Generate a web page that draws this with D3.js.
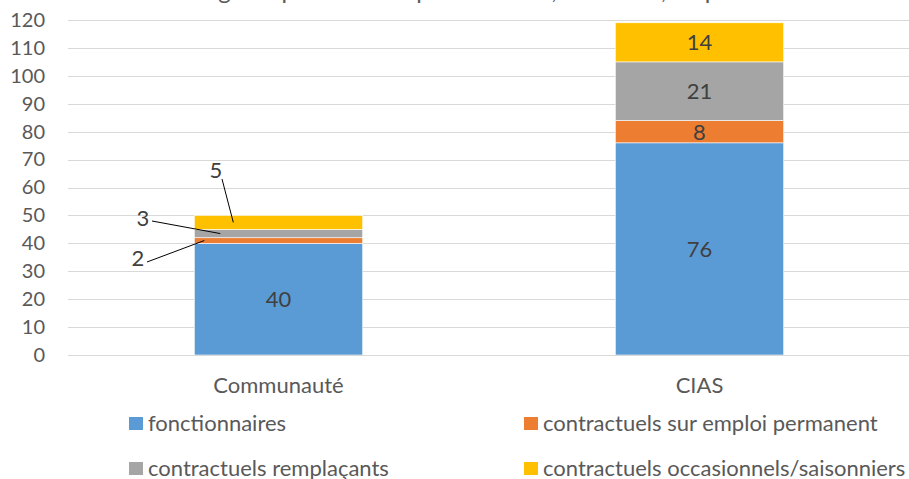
<!DOCTYPE html>
<html>
<head>
<meta charset="utf-8">
<script src="https://cdnjs.cloudflare.com/ajax/libs/d3/7.8.5/d3.min.js"></script>
<style>
  body { margin: 0; background: #fff; }
  text { font-family: Lato, "Open Sans", sans-serif; }
</style>
</head>
<body>
<script>
var categories = ["Communauté", "CIAS"];
var seriesNames = ["fonctionnaires", "contractuels sur emploi permanent", "contractuels remplaçants", "contractuels occasionnels/saisonniers"];
var seriesColors = ["#5b9bd5", "#ed7d31", "#a5a5a5", "#ffc000"];
var fonctionnaires = [40, 76];
var contractuelsPermanent = [2, 8];
var contractuelsRemplacants = [3, 21];
var contractuelsOccasionnels = [5, 14];
var yTicks = [0, 10, 20, 30, 40, 50, 60, 70, 80, 90, 100, 110, 120];
var title = "Nombre d'agents par statut et par structure, au 31/12, en personnes";

var width = 909, height = 479;
var margin = {top: 20, right: 0, bottom: 124, left: 68};

var rows = categories.map(function(c, i) {
  return {
    cat: c,
    s0: fonctionnaires[i],
    s1: contractuelsPermanent[i],
    s2: contractuelsRemplacants[i],
    s3: contractuelsOccasionnels[i]
  };
});
var keys = ["s0", "s1", "s2", "s3"];
var stacked = d3.stack().keys(keys)(rows);

var svg = d3.select("body").append("svg")
    .attr("width", width)
    .attr("height", height);

var x = d3.scaleBand()
    .domain(categories)
    .range([margin.left, width - margin.right + 1])
    .paddingInner(0.6)
    .paddingOuter(0.3);

var y = d3.scaleLinear()
    .domain([0, 120])
    .range([height - margin.bottom, margin.top]);

// title (cut off at the top, as in the source)
svg.append("text")
    .attr("x", 455)
    .attr("y", -1)
    .attr("text-anchor", "middle")
    .attr("font-size", 24)
    .attr("fill", "#595959")
    .text(title);

// gridlines
svg.append("g")
  .selectAll("line")
  .data(yTicks)
  .enter().append("line")
    .attr("x1", margin.left)
    .attr("x2", width)
    .attr("y1", function(d) { return Math.round(y(d)) + 0.5; })
    .attr("y2", function(d) { return Math.round(y(d)) + 0.5; })
    .attr("stroke", "#d9d9d9")
    .attr("stroke-width", 1);

// y axis labels
var yAxis = svg.append("g")
    .attr("transform", "translate(45,0)")
    .call(d3.axisLeft(y).tickValues(yTicks).tickSize(0).tickPadding(0));
yAxis.select(".domain").remove();
yAxis.selectAll("text")
    .attr("font-family", "Lato, sans-serif")
    .attr("font-size", 20)
    .attr("fill", "#595959");

// bars
svg.append("g")
  .selectAll("g")
  .data(stacked)
  .enter().append("g")
    .attr("fill", function(d, i) { return seriesColors[i]; })
  .selectAll("rect")
  .data(function(d) { return d; })
  .enter().append("rect")
    .attr("x", function(d) { return x(d.data.cat); })
    .attr("width", x.bandwidth())
    .attr("y", function(d) { return y(d[1]); })
    .attr("height", function(d) { return y(d[0]) - y(d[1]); })
    .attr("stroke", "#fff")
    .attr("stroke-width", 0.6);

// x axis line
svg.append("line")
    .attr("x1", margin.left)
    .attr("x2", width)
    .attr("y1", Math.round(y(0)) + 0.5)
    .attr("y2", Math.round(y(0)) + 0.5)
    .attr("stroke", "#d9d9d9");

// category labels
svg.append("g")
  .selectAll("text")
  .data(categories)
  .enter().append("text")
    .attr("x", function(d) { return x(d) + x.bandwidth() / 2; })
    .attr("y", 393)
    .attr("text-anchor", "middle")
    .attr("font-size", 22)
    .attr("fill", "#595959")
    .text(function(d) { return d; });

// data labels inside bars (CIAS all, Communauté only the big one)
var labelG = svg.append("g");
stacked.forEach(function(layer, si) {
  layer.forEach(function(d) {
    var v = d[1] - d[0];
    if (d.data.cat === "Communauté" && si > 0) return;
    labelG.append("text")
        .attr("x", x(d.data.cat) + x.bandwidth() / 2)
        .attr("y", (y(d[0]) + y(d[1])) / 2)
        .attr("dy", "0.36em")
        .attr("text-anchor", "middle")
        .attr("font-size", 22)
        .attr("fill", "#404040")
        .text(v);
  });
});

// callout labels for the thin Communauté segments
var xc = x("Communauté");
var callouts = [
  {si: 1, lx: 138, ly: 258, px: xc + 10},
  {si: 2, lx: 143, ly: 218, px: xc + 26},
  {si: 3, lx: 216, ly: 170, px: xc + 39}
];
callouts.forEach(function(c) {
  var d = stacked[c.si][0];
  var v = d[1] - d[0];
  var py = (y(d[0]) + y(d[1])) / 2;
  var sx, sy;
  if (c.si === 3) { sx = c.lx + 6; sy = c.ly + 9; }
  else { sx = c.lx + 9; sy = c.ly + (c.si === 1 ? 4 : 3); }
  labelG.append("line")
      .attr("x1", sx).attr("y1", sy)
      .attr("x2", c.px).attr("y2", py)
      .attr("stroke", "#000")
      .attr("stroke-width", 1);
  labelG.append("text")
      .attr("x", c.lx)
      .attr("y", c.ly)
      .attr("dy", "0.36em")
      .attr("text-anchor", "middle")
      .attr("font-size", 22)
      .attr("fill", "#404040")
      .text(v);
});

// legend
var legendPos = [[129, 423.5], [524, 423.5], [129, 468.5], [524, 468.5]];
var legend = svg.append("g")
  .selectAll("g")
  .data(seriesNames)
  .enter().append("g")
    .attr("transform", function(d, i) { return "translate(" + legendPos[i][0] + "," + legendPos[i][1] + ")"; });
legend.append("rect")
    .attr("x", 0)
    .attr("y", -6.5)
    .attr("width", 14)
    .attr("height", 13)
    .attr("fill", function(d, i) { return seriesColors[i]; });
legend.append("text")
    .attr("x", 19)
    .attr("y", 0)
    .attr("dy", "0.35em")
    .attr("font-size", 22)
    .attr("fill", "#595959")
    .text(function(d) { return d; });
</script>
</body>
</html>
